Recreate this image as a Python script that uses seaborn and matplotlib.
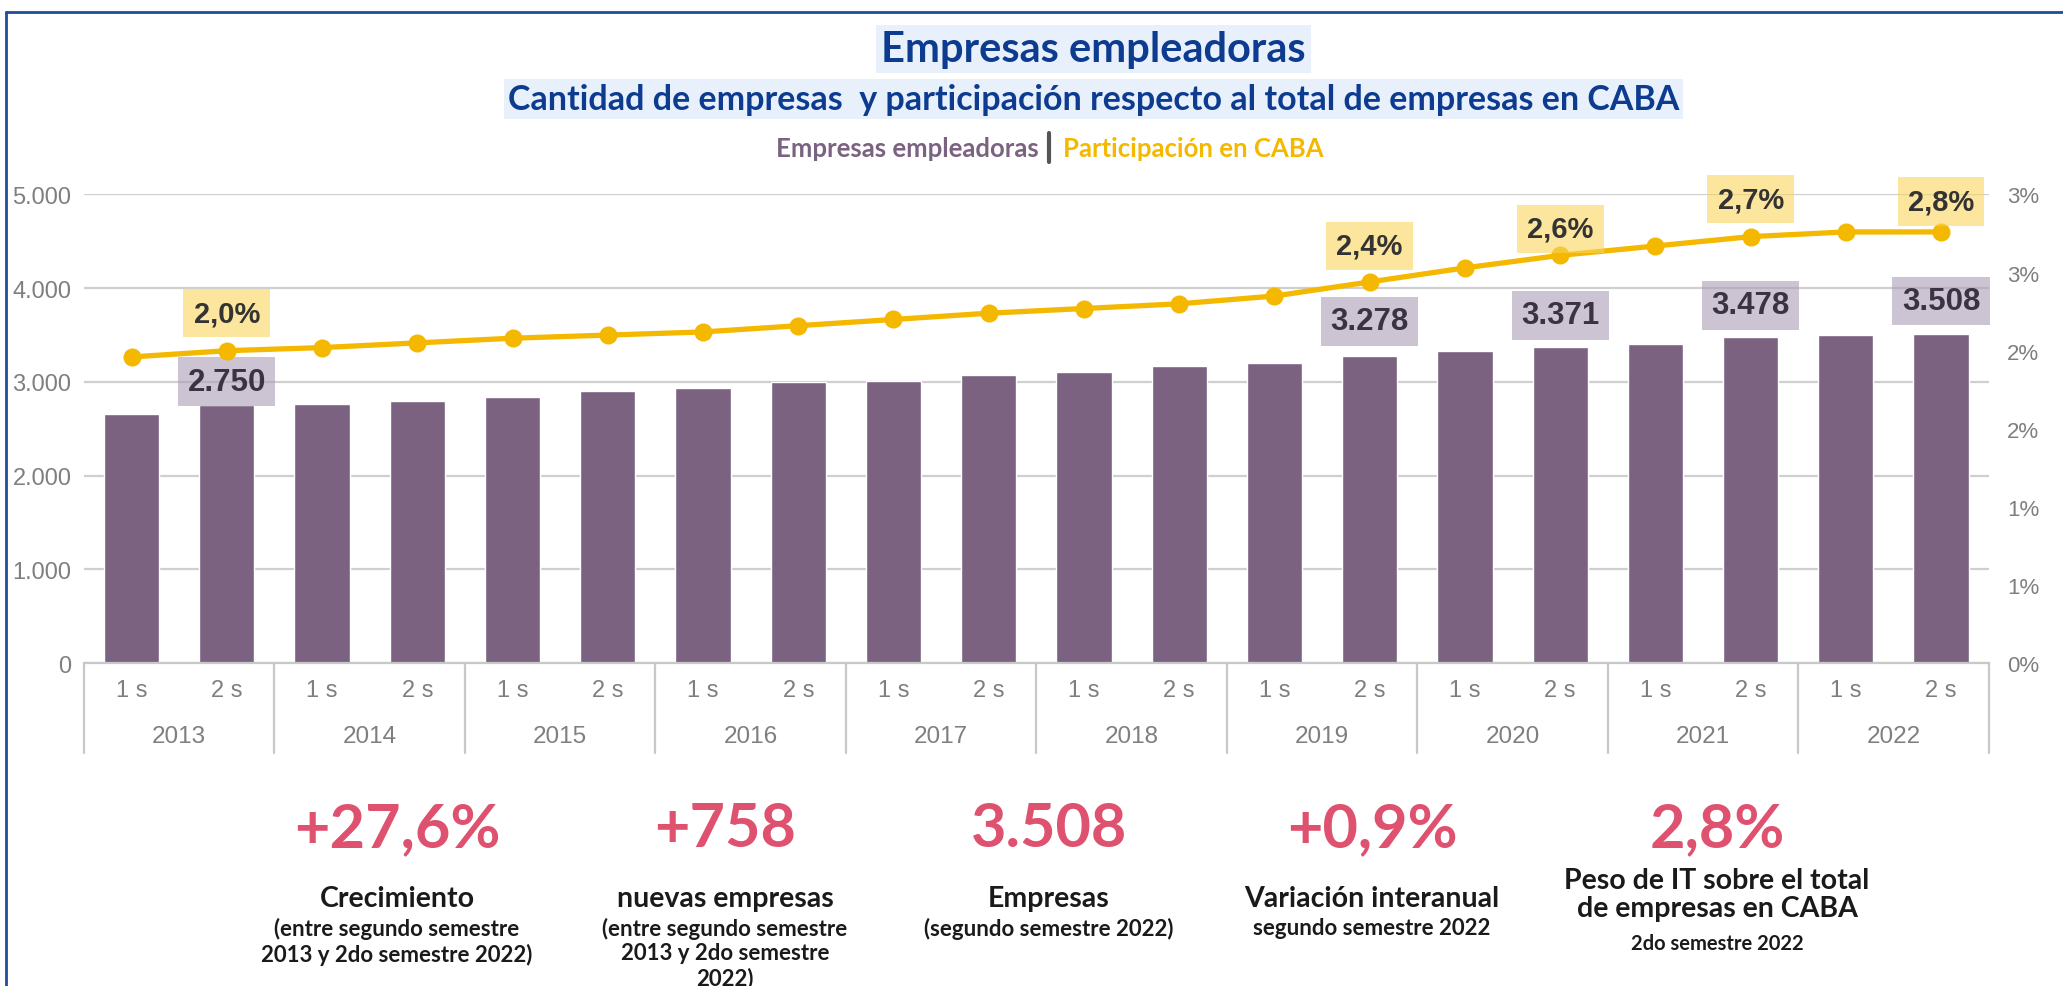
import numpy as np
import pandas as pd
import seaborn as sns
import matplotlib.pyplot as plt
from matplotlib.lines import Line2D

# Data
years = ['2013', '2014', '2015', '2016', '2017', '2018', '2019', '2020', '2021', '2022']
semesters = ['1 s', '2 s']
empresas = [2660, 2750, 2760, 2800, 2840, 2900, 2940, 3000, 3010, 3070,
            3110, 3165, 3205, 3278, 3335, 3371, 3405, 3478, 3500, 3508]
participacion = [1.96, 2.00, 2.02, 2.05, 2.08, 2.10, 2.12, 2.16, 2.20, 2.24,
                 2.27, 2.30, 2.35, 2.44, 2.53, 2.61, 2.67, 2.73, 2.76, 2.76]
labeled_idx = [1, 13, 15, 17, 19]
left_ticks = [0, 1000, 2000, 3000, 4000, 5000]
right_ticks = [0, 0.5, 1.0, 1.5, 2.0, 2.5, 3.0]
right_tick_labels = ['0%', '1%', '1%', '2%', '2%', '3%', '3%']

kpi_values = ['+27,6%', '+758', '3.508', '+0,9%', '2,8%']
kpi_titles = ['Crecimiento', 'nuevas empresas', 'Empresas', 'Variación interanual',
              'Peso de IT sobre el total\nde empresas en CABA']
kpi_notes = ['(entre segundo semestre\n2013 y 2do semestre 2022)',
             '(entre segundo semestre\n2013 y 2do semestre\n2022)',
             '(segundo semestre 2022)',
             'segundo semestre 2022',
             '2do semestre 2022']

bar_color = '#7b6280'
line_color = '#f5b800'
blue = '#0c3b8f'
pink = '#de516f'
gray = '#7f7f7f'
font_t = ['Lato', 'DejaVu Sans']

# label offsets above point / bar top (points), as placed in the original
pct_offsets = [27, 26, 19, 27, 22]
bar_offsets = [17, 25, 23, 23, 24]

periodos = [f'{y} {s}' for y in years for s in semesters]
df = pd.DataFrame({'periodo': periodos, 'empresas': empresas})
n = len(periodos)

sns.set_style('white')
plt.rcParams['font.family'] = ['Liberation Sans', 'DejaVu Sans']

fig = plt.figure(figsize=(20.63, 9.87), dpi=100)
ax = fig.add_axes([0.0407, 0.327, 0.9233, 0.475])

sns.barplot(data=df, x='periodo', y='empresas', color=bar_color, saturation=1,
            width=0.58, ax=ax, zorder=2)
ax.set_ylim(0, 5000)
ax.set_yticks(left_ticks)
ax.set_yticklabels([f'{v:,}'.replace(',', '.') for v in left_ticks], color=gray, fontsize=17)
ax.set_xticks(range(n))
ax.set_xticklabels(semesters * len(years), color=gray, fontsize=17)
ax.tick_params(axis='both', length=0)
ax.tick_params(axis='y', pad=9)
ax.tick_params(axis='x', pad=11)
ax.set_xlabel('')
ax.set_ylabel('')
ax.grid(axis='y', color='#cfcfcf', lw=1.6, zorder=0)
ax.set_axisbelow(True)
for s in ['top', 'left', 'right']:
    ax.spines[s].set_visible(False)
ax.spines['bottom'].set_color('#c8c8c8')
ax.spines['bottom'].set_linewidth(1.6)

# year group labels and separators
xt = ax.get_xaxis_transform()
for i, y in enumerate(years):
    ax.text(2 * i + 0.5, -0.156, y, transform=xt, ha='center', va='center',
            color=gray, fontsize=17.5)
for b in np.arange(-0.5, n, 2):
    ax.plot([b, b], [0, -0.192], transform=xt, color='#c8c8c8', lw=1.6, clip_on=False)

# bar labels
for i, off in zip(labeled_idx, bar_offsets):
    ax.annotate(f'{empresas[i]:,}'.replace(',', '.'), (i, empresas[i]),
                xytext=(0, off), textcoords='offset points', ha='center', va='center',
                fontsize=22.5, fontweight='bold', color='#3b3344', zorder=5,
                bbox=dict(boxstyle='square,pad=0.3', fc=(173 / 255, 158 / 255, 182 / 255, 0.6),
                          ec='none'))

ax2 = ax.twinx()
sns.lineplot(x=np.arange(n), y=participacion, ax=ax2, color=line_color, lw=3.8,
             marker='o', markersize=13, markeredgewidth=0)
ax2.set_ylim(0, 3.0)
ax2.set_yticks(right_ticks)
ax2.set_yticklabels(right_tick_labels, color=gray, fontsize=16)
ax2.tick_params(axis='y', length=0, pad=13)
ax2.set_xlim(-0.5, n - 0.5)
ax.set_xlim(-0.5, n - 0.5)
for s in ax2.spines.values():
    s.set_visible(False)

for i, off in zip(labeled_idx, pct_offsets):
    ax2.annotate(f'{participacion[i]:.1f}%'.replace('.', ','), (i, participacion[i]),
                 xytext=(0, off), textcoords='offset points', ha='center', va='center',
                 fontsize=21, fontweight='bold', color='#333333', zorder=5,
                 bbox=dict(boxstyle='square,pad=0.35', fc=(250 / 255, 212 / 255, 90 / 255, 0.6),
                           ec='none'))

# titles
fig.text(0.53, 0.949, 'Empresas empleadoras', ha='center', va='center', fontsize=30,
         fontweight='bold', color=blue, family=font_t,
         bbox=dict(boxstyle='square,pad=0.12', fc='#e8f0fc', ec='none'))
fig.text(0.53, 0.899, 'Cantidad de empresas  y participación respecto al total de empresas en CABA',
         ha='center', va='center', fontsize=24.5, fontweight='bold', color=blue,
         family=font_t,
         bbox=dict(boxstyle='square,pad=0.12', fc='#e8f0fc', ec='none'))
fig.text(0.5035, 0.849, 'Empresas empleadoras', ha='right', va='center', fontsize=18.5,
         fontweight='bold', color=bar_color, family=font_t)
fig.text(0.5155, 0.849, 'Participación en CABA', ha='left', va='center', fontsize=18.5,
         fontweight='bold', color=line_color, family=font_t)
fig.add_artist(Line2D([0.5087, 0.5087], [0.835, 0.864], transform=fig.transFigure,
                      color='#555555', lw=3))

# KPI section
kpi_x = [397, 725, 1049, 1372, 1717]
for x, v, t, note in zip(kpi_x, kpi_values, kpi_titles, kpi_notes):
    fx = x / 2063
    fig.text(fx, 1 - 829 / 987, v, ha='center', va='center', fontsize=44,
             fontweight='bold', color=pink, family=font_t)
    if '\n' in t:
        fig.text(fx, 1 - 895 / 987, t, ha='center', va='center', fontsize=20.5,
                 fontweight='bold', color='#1a1a1a', family=font_t, linespacing=1.1)
        fig.text(fx, 1 - 944 / 987, note, ha='center', va='center', fontsize=14.5,
                 fontweight='bold', color='#1a1a1a', family=font_t)
    else:
        fig.text(fx, 1 - 899 / 987, t, ha='center', va='center', fontsize=20.5,
                 fontweight='bold', color='#1a1a1a', family=font_t)
        fig.text(fx, 1 - 918 / 987, note, ha='center', va='top', fontsize=16,
                 fontweight='bold', color='#1a1a1a', family=font_t, linespacing=1.2)

# outer frame
fig.add_artist(Line2D([6 / 2063, 1], [1 - 13 / 987, 1 - 13 / 987], transform=fig.transFigure,
                      color='#1d4e9e', lw=2))
fig.add_artist(Line2D([6 / 2063, 6 / 2063], [0, 1 - 13 / 987], transform=fig.transFigure,
                      color='#1d4e9e', lw=2))

fig.savefig('out.png', dpi=100)
